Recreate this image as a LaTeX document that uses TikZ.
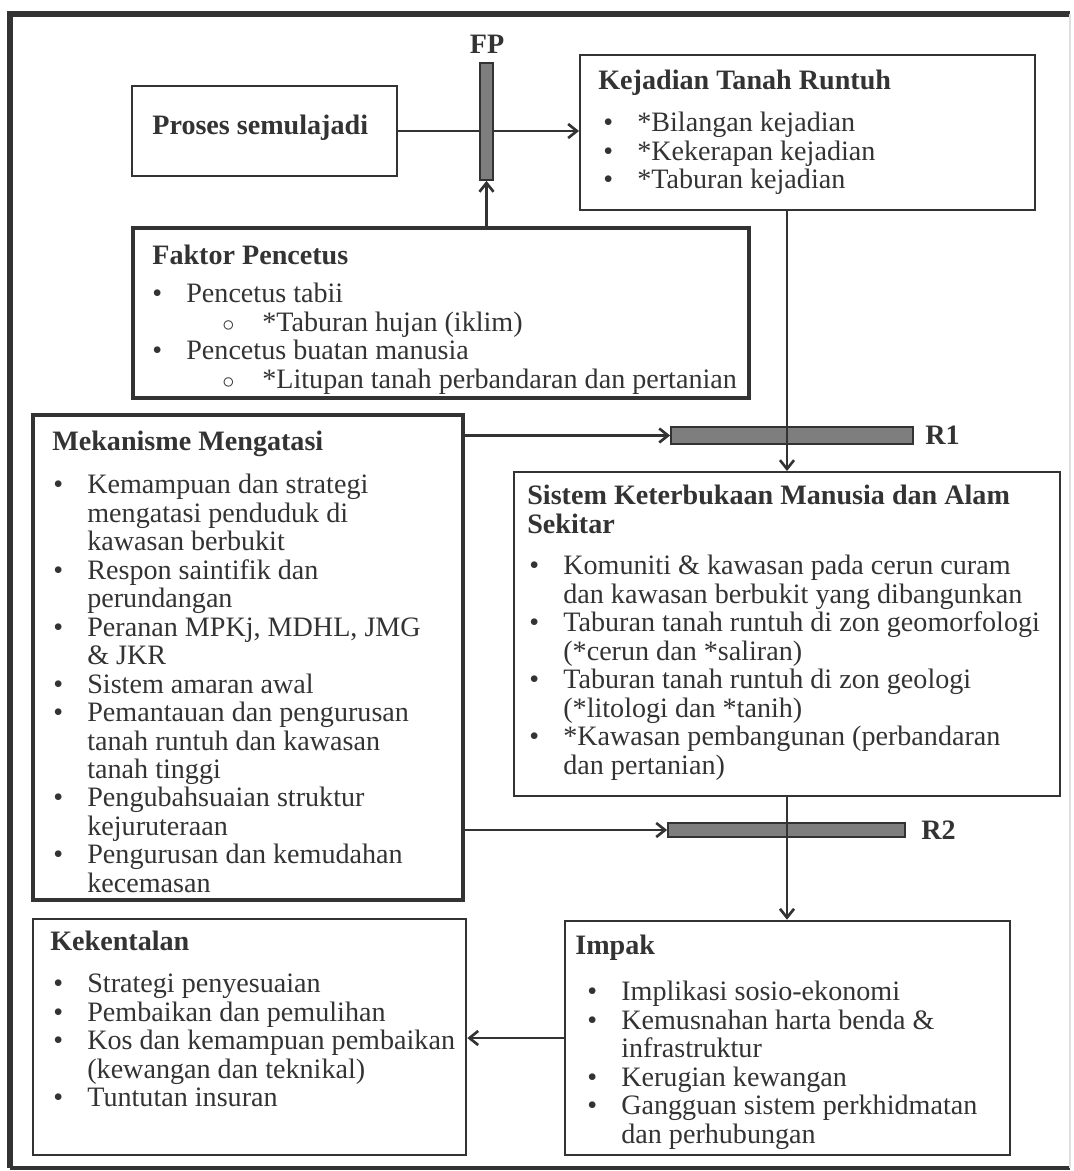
\documentclass[tikz,border=0pt]{standalone}
\usepackage{fontspec}
\setmainfont{Liberation Serif}
\usetikzlibrary{fit,arrows.meta}
\newlength{\pxu}\setlength{\pxu}{0.02cm}
\newcommand{\bu}{\makebox[34\pxu][l]{\textbullet}}
\newcommand{\cn}{\hspace*{34\pxu}}
\newcommand{\sbu}{\hspace*{70\pxu}\makebox[40\pxu][l]{\scalebox{.8}{$\circ$}}}
\definecolor{ink}{HTML}{333333}
\definecolor{barfill}{HTML}{7E7E7E}
\tikzset{
box/.style={draw=ink,inner sep=0pt},
txt/.style={anchor=north west,inner sep=0pt,align=left,text=ink,font=\fontsize{16}{16.2}\selectfont},
ttl/.style={txt,font=\fontsize{16}{16.2}\selectfont\bfseries},
bar/.style={draw=ink,fill=barfill,line width=1pt,inner sep=0pt},
arr/.style={draw=ink,line width=1.5pt,-{Straight Barb[length=5pt,width=8pt]}}
}
\begin{document}
\begin{tikzpicture}[x=0.02cm,y=-0.02cm]
\useasboundingbox (0,0) rectangle (1074,1171);
\draw[ink,line width=3.4pt] (10,1168) -- (10,14) -- (1070,14);
\draw[ink,line width=2pt] (10,1168) -- (1070,1168);
\draw[gray!25,line width=1pt] (1070,14) -- (1070,1168);
\foreach \nm/\xa/\ya/\xb/\yb/\w in {proses/132/86/397/176/1.1,kejadian/580/55/1035/210/1.1,
faktor/133/228/749/398/2.2,mek/33/415/463/900/1.8,sistem/514/472/1060/796/1.1,
impak/565/921/1010/1155/1.5,kek/33/919/466/1155/1.5}
\node[box,line width=\w pt,fit={(\xa,\ya) (\xb,\yb)}] (\nm) {};
\node[ttl,anchor=west] (prosest) at (152,128) {Proses semulajadi};
\node[ttl] (kejadiant) at (598,70) {Kejadian Tanah Runtuh};
\node[txt] (kejadianl) at (603,112) {\bu *Bilangan kejadian\\ \bu *Kekerapan kejadian\\ \bu *Taburan kejadian};
\node[ttl] (faktort) at (152,245) {Faktor Pencetus};
\node[txt] (faktorl) at (152,283) {\bu Pencetus tabii\\ \sbu *Taburan hujan (iklim)\\ \bu Pencetus buatan manusia\\ \sbu *Litupan tanah perbandaran dan pertanian};
\node[ttl] (mekt) at (52,431) {Mekanisme Mengatasi};
\node[txt] (mekl) at (53,474) {\bu Kemampuan dan strategi\\ \cn mengatasi penduduk di\\ \cn kawasan berbukit\\ \bu Respon saintifik dan\\ \cn perundangan\\ \bu Peranan MPKj, MDHL, JMG\\ \cn \& JKR\\ \bu Sistem amaran awal\\ \bu Pemantauan dan pengurusan\\ \cn tanah runtuh dan kawasan\\ \cn tanah tinggi\\ \bu Pengubahsuaian struktur\\ \cn kejuruteraan\\ \bu Pengurusan dan kemudahan\\ \cn kecemasan};
\node[ttl] (sistemt) at (527,485) {Sistem Keterbukaan Manusia dan Alam\\ Sekitar};
\node[txt] (sisteml) at (529,555) {\bu Komuniti \& kawasan pada cerun curam\\ \cn dan kawasan berbukit yang dibangunkan\\ \bu Taburan tanah runtuh di zon geomorfologi\\ \cn (*cerun dan *saliran)\\ \bu Taburan tanah runtuh di zon geologi\\ \cn (*litologi dan *tanih)\\ \bu *Kawasan pembangunan (perbandaran\\ \cn dan pertanian)};
\node[ttl] (impakt) at (575,935) {Impak};
\node[txt] (impakl) at (587,981) {\bu Implikasi sosio-ekonomi\\ \bu Kemusnahan harta benda \&\\ \cn infrastruktur\\ \bu Kerugian kewangan\\ \bu Gangguan sistem perkhidmatan\\ \cn dan perhubungan};
\node[ttl] (kekt) at (50,931) {Kekentalan};
\node[txt] (kekl) at (53,974) {\bu Strategi penyesuaian\\ \bu Pembaikan dan pemulihan\\ \bu Kos dan kemampuan pembaikan\\ \cn (kewangan dan teknikal)\\ \bu Tuntutan insuran};
\node[bar,fit={(671,427) (913,444)}] (r1) {};
\node[bar,fit={(668,823) (905,837)}] (r2) {};
\node[ttl,anchor=west] (r1t) at (925,435) {R1};
\node[ttl,anchor=west] (r2t) at (921,830) {R2};
\draw[arr] (proses.east) -- (proses.east -| kejadian.west);
\node[bar,fit={(480,63) (493,180)}] (fp) {};
\node[ttl,anchor=center] (fpt) at (487,44) {FP};
\draw[arr] (faktor.north -| fp) -- (fp.south);
\draw[arr] (kejadian.south -| sistem.north) -- (sistem.north);
\draw[arr] (mek.east |- r1) -- (r1.west);
\draw[arr] (mek.east |- r2) -- (r2.west);
\draw[arr] (sistem.south) -- (impak.north -| sistem.south);
\draw[arr] (impak.west) -- (impak.west -| kek.east);
\end{tikzpicture}
\end{document}
